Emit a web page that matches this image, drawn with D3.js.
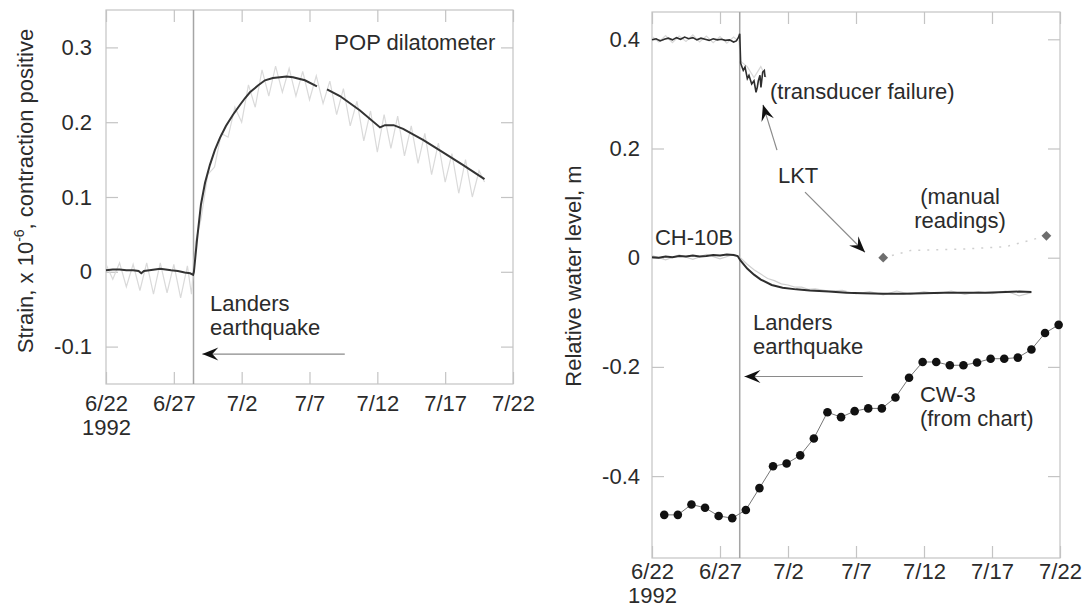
<!DOCTYPE html>
<html><head><meta charset="utf-8">
<script src="https://cdn.jsdelivr.net/npm/d3@7"></script>
<style>
body{margin:0;background:#fff}
text{font-family:"Liberation Sans",Arial,sans-serif;fill:#2b2b2b}
</style>
</head><body>
<svg id="c" width="1083" height="607"></svg>
<script>
// ---------- data (days after 6/22/1992) ----------
const dateTicks = [0, 5, 10, 15, 20, 25, 30];
const dateLabels = ["6/22", "6/27", "7/2", "7/7", "7/12", "7/17", "7/22"];
const yearLabel = "1992";
const strainTicks = [-0.1, 0, 0.1, 0.2, 0.3];
const levelTicks = [-0.4, -0.2, 0, 0.2, 0.4];
const quakeDay = 6.45;

// POP dilatometer strain (x 10^-6), smoothed trace; null = data gap
const strain = [
  [0,0.002],[0.5,0.003],[1,0.003],[1.5,0.002],[2,0.002],[2.4,0.001],[2.6,-0.002],[2.8,0.001],
  [3.2,0.002],[3.6,0.003],[4.0,0.004],[4.4,0.003],[4.8,0.002],[5.3,0.001],[5.8,-0.001],[6.2,-0.002],[6.42,-0.004],
  [6.48,0],[6.71,0.043],[7.0,0.09],[7.3,0.119],[7.66,0.143],[8.03,0.163],[8.4,0.179],[8.84,0.195],
  [9.36,0.21],[9.87,0.223],[10.24,0.232],[10.61,0.24],[11.2,0.249],[11.72,0.256],[12.3,0.259],
  [12.82,0.26],[13.3,0.261],[13.78,0.26],[14.66,0.256],[15.55,0.248],
  null,
  [16.29,0.244],[17.24,0.235],[18.7,0.216],[20.2,0.193],[20.56,0.196],[21.2,0.196],[21.9,0.191],
  [23.4,0.176],[24.9,0.159],[26.3,0.143],[27.9,0.124]
];
// raw (unsmoothed, tidal) strain, light grey
const strainRaw = [
  [0,0.01],[0.5,-0.01],[1,0.012],[1.5,-0.02],[2,0.01],[2.5,-0.025],[3,0.012],[3.5,-0.03],[4,0.012],
  [4.5,-0.028],[5,0.01],[5.5,-0.035],[6,0.008],[6.3,-0.03],[6.6,0.04],[7,0.07],[7.5,0.13],[8,0.14],
  [8.5,0.185],[9,0.18],[9.5,0.22],[10,0.2],[10.5,0.25],[11,0.22],[11.5,0.27],[12,0.235],[12.5,0.275],
  [13,0.24],[13.5,0.272],[14,0.235],[14.5,0.268],[15,0.23],[15.5,0.262],[16,0.225],[16.5,0.255],
  [17,0.21],[17.5,0.245],[18,0.195],[18.5,0.228],[19,0.175],[19.5,0.215],[20,0.16],[20.5,0.21],
  [21,0.165],[21.5,0.208],[22,0.155],[22.5,0.195],[23,0.145],[23.5,0.185],[24,0.13],[24.5,0.172],
  [25,0.12],[25.5,0.158],[26,0.105],[26.5,0.15],[27,0.1],[27.5,0.135],[27.9,0.12]
];

// LKT well water level (m)
const lkt = [
  [0,0.399],[0.3,0.401],[0.6,0.397],[0.9,0.4],[1.2,0.402],[1.5,0.399],[1.8,0.403],[2.1,0.4],[2.4,0.404],
  [2.7,0.401],[3.0,0.403],[3.3,0.399],[3.6,0.402],[3.9,0.4],[4.2,0.398],[4.5,0.401],[4.8,0.399],
  [5.1,0.4],[5.4,0.398],[5.7,0.399],[6.0,0.395],[6.2,0.397],[6.35,0.403],[6.45,0.41],
  [6.52,0.356],[6.71,0.343],[6.84,0.349],[7.01,0.328],[7.13,0.334],[7.33,0.318],[7.5,0.324],
  [7.65,0.303],[7.74,0.312],[7.82,0.324],[7.94,0.334],[8.01,0.312],[8.14,0.34],[8.26,0.343],[8.31,0.331]
];
const lktRaw = [
  [0,0.405],[0.5,0.395],[1,0.407],[1.5,0.394],[2,0.406],[2.5,0.396],[3,0.408],[3.5,0.395],[4,0.406],
  [4.5,0.394],[5,0.405],[5.5,0.393],[6,0.404],[6.4,0.396],[6.5,0.36],[7,0.35],[7.5,0.33],[8,0.35],[8.4,0.33]
];
// CH-10B well water level (m)
const ch10b = [
  [0,0.001],[0.5,0.0],[1,0.002],[1.5,0.001],[2,0.003],[2.5,0.002],[3,0.004],[3.5,0.002],[4,0.003],
  [4.5,0.005],[5,0.004],[5.5,0.006],[6,0.005],[6.3,0.003],[6.5,-0.005],[7.0,-0.02],[7.5,-0.031],
  [8.0,-0.04],[8.8,-0.05],[9.6,-0.055],[10.6,-0.058],[11.6,-0.06],[13,-0.062],[14.3,-0.064],
  [15.5,-0.065],[17,-0.066],[18.5,-0.066],[20,-0.065],[21.5,-0.064],[23,-0.064],[24.5,-0.064],
  [26,-0.063],[27,-0.062],[27.9,-0.063]
];
const ch10bRaw = [
  [0,0.004],[1,-0.004],[2,0.005],[3,-0.003],[4,0.006],[5,-0.002],[6,0.006],[6.5,0.0],[7,-0.012],
  [7.5,-0.022],[8,-0.03],[8.5,-0.038],[9,-0.042],[9.5,-0.048],[10,-0.05],[10.5,-0.054],[11,-0.054],
  [11.5,-0.058],[12,-0.057],[13,-0.061],[14,-0.06],[15,-0.066],[16,-0.062],[17,-0.068],[18,-0.061],
  [19,-0.067],[20,-0.062],[21,-0.066],[22,-0.061],[23,-0.067],[24,-0.062],[25,-0.066],[26,-0.061],
  [27,-0.07],[27.9,-0.064]
];
// CW-3 daily chart readings (m)
const cw3Day = [0.9,1.9,2.9,3.9,4.9,5.9,6.9,7.9,8.9,9.9,10.9,11.9,12.9,13.9,14.9,15.9,16.9,17.9,18.9,19.9,
  20.9,21.9,22.9,23.9,24.9,25.9,26.9,27.9,28.9,29.9];
const cw3 = [-0.471,-0.471,-0.452,-0.458,-0.473,-0.477,-0.462,-0.422,-0.382,-0.377,-0.362,-0.331,-0.283,
  -0.292,-0.281,-0.276,-0.276,-0.256,-0.22,-0.191,-0.191,-0.197,-0.197,-0.192,-0.185,-0.185,-0.183,
  -0.168,-0.138,-0.123];
// LKT manual readings
const manualDay = [17, 29];
const manual = [0.0, 0.04];
const manualTrace = [[17,0.0],[19,0.013],[23,0.016],[26,0.02],[29,0.04]];

// ---------- drawing ----------
const svg = d3.select("#c");
svg.append("rect").attr("width",1083).attr("height",607).attr("fill","#fff");
const FS = 22;
const LH = 24;
const boxCol = "#c4c4c4";

svg.append("defs").append("marker")
  .attr("id","ah").attr("viewBox","-17 -7 18 14").attr("refX",0).attr("refY",0)
  .attr("markerWidth",18).attr("markerHeight",14).attr("markerUnits","userSpaceOnUse")
  .attr("orient","auto")
  .append("path").attr("d","M0,0 L-16,-6.5 L-10,0 L-16,6.5 Z").attr("fill","#111");

const fmt = d => d === 0 ? "0" : d.toFixed(1);

function frame(x, y, yTicks, labPad, xPad, yearGap) {
  const [x0, x1] = x.range(), [yb, yt] = y.range();
  const g = svg.append("g");
  const ax = [
    g.append("g").attr("transform",`translate(${x0},0)`)
      .call(d3.axisLeft(y).tickValues(yTicks).tickSize(-12).tickPadding(labPad).tickFormat(fmt)),
    g.append("g").attr("transform",`translate(${x1},0)`)
      .call(d3.axisRight(y).tickValues(yTicks).tickSize(-12).tickFormat("")),
    g.append("g").attr("transform",`translate(0,${yt})`)
      .call(d3.axisTop(x).tickValues(dateTicks).tickSize(-12).tickFormat("")),
    g.append("g").attr("transform",`translate(0,${yb})`)
      .call(d3.axisBottom(x).tickValues(dateTicks).tickSize(-12).tickPadding(xPad)
        .tickFormat((d,i) => dateLabels[i]))
  ];
  ax.forEach(a => {
    a.select(".domain").remove();
    a.selectAll(".tick line").attr("stroke",boxCol).attr("stroke-width",1.2);
    a.selectAll("text").attr("font-size",FS).attr("font-family",null).attr("fill","#2b2b2b");
  });
  ax[3].selectAll(".tick").filter(d => d === 0).append("text")
    .attr("y", xPad + yearGap).attr("dy","0.71em").attr("text-anchor","middle")
    .attr("font-size",FS).attr("fill","#2b2b2b").text(yearLabel);
  g.append("rect").attr("x",x0).attr("y",yt).attr("width",x1-x0).attr("height",yb-yt)
    .attr("fill","none").attr("stroke",boxCol).attr("stroke-width",1.2);
  // earthquake line
  g.append("line").attr("x1",x(quakeDay)).attr("x2",x(quakeDay)).attr("y1",yt).attr("y2",yb)
    .attr("stroke","#a5a5a5").attr("stroke-width",1.5);
  return g;
}

function lineOf(x, y) {
  return d3.line().defined(d => d).x(d => x(d[0])).y(d => y(d[1]));
}
function label(g, x, y, lines, day, val, anchor) {
  lines.forEach((t, i) => {
    g.append("text").attr("x", x(day)).attr("y", y(val) + i*LH).attr("dy","0.35em")
      .attr("text-anchor", anchor || "start").attr("font-size", FS).text(t);
  });
}
function arrow(g, x, y, from, to) {
  g.append("line").attr("x1",x(from[0])).attr("y1",y(from[1])).attr("x2",x(to[0])).attr("y2",y(to[1]))
    .attr("stroke","#8a8a8a").attr("stroke-width",1.2).attr("marker-end","url(#ah)");
}

// ----- left panel -----
const xL = d3.scaleLinear().domain([0,30]).range([106,513]);
const yL = d3.scaleLinear().domain([-0.15,0.35]).range([384,10]);
const gL = frame(xL, yL, strainTicks, 14, 11, LH);
const lL = lineOf(xL, yL);
gL.append("path").attr("d", lL(strainRaw)).attr("fill","none").attr("stroke","#dadada").attr("stroke-width",1.2);
gL.append("path").attr("d", lL(strain)).attr("fill","none").attr("stroke","#333").attr("stroke-width",2);
label(gL, xL, yL, ["POP dilatometer"], 28.7, 0.307, "end");
label(gL, xL, yL, ["Landers","earthquake"], 7.67, -0.042);
arrow(gL, xL, yL, [17.6,-0.11], [7.1,-0.11]);
svg.append("text").attr("transform","translate(33,191) rotate(-90)").attr("text-anchor","middle")
  .attr("font-size",FS)
  .call(t => {
    t.append("tspan").text("Strain, x 10");
    t.append("tspan").attr("font-size",14).attr("dy",-9).text("-6");
    t.append("tspan").attr("dy",9).text(", contraction positive");
  });

// ----- right panel -----
const xR = d3.scaleLinear().domain([0,30]).range([652,1060]);
const yR = d3.scaleLinear().domain([-0.55,0.45]).range([558,12]);
const gR = frame(xR, yR, levelTicks, 12, 5, LH);
const lR = lineOf(xR, yR);
gR.append("path").attr("d", lR(lktRaw)).attr("fill","none").attr("stroke","#d8d8d8").attr("stroke-width",1.2);
gR.append("path").attr("d", lR(ch10bRaw)).attr("fill","none").attr("stroke","#d0d0d0").attr("stroke-width",1.2);
gR.append("path").attr("d", lR(manualTrace)).attr("fill","none").attr("stroke","#cfcfcf")
  .attr("stroke-width",1.5).attr("stroke-dasharray","2,7");
gR.append("path").attr("d", lR(lkt)).attr("fill","none").attr("stroke","#2e2e2e").attr("stroke-width",1.6);
gR.append("path").attr("d", lR(ch10b)).attr("fill","none").attr("stroke","#2e2e2e").attr("stroke-width",2);
const cwPts = cw3Day.map((d,i) => [d, cw3[i]]);
gR.append("path").attr("d", lR(cwPts)).attr("fill","none").attr("stroke","#777").attr("stroke-width",1);
gR.selectAll("circle.cw").data(cwPts).join("circle").attr("class","cw")
  .attr("cx", d => xR(d[0])).attr("cy", d => yR(d[1])).attr("r", 4.3).attr("fill","#111");
gR.selectAll("path.man").data(manualDay.map((d,i) => [d, manual[i]])).join("path").attr("class","man")
  .attr("d", d3.symbol(d3.symbolSquare, 48))
  .attr("transform", d => `translate(${xR(d[0])},${yR(d[1])}) rotate(45)`).attr("fill","#6e6e6e");

label(gR, xR, yR, ["(transducer failure)"], 8.68, 0.305);
label(gR, xR, yR, ["LKT"], 9.26, 0.151);
arrow(gR, xR, yR, [9.19,0.197], [8.16,0.28]);
arrow(gR, xR, yR, [11.25,0.12], [15.66,0.01]);
label(gR, xR, yR, ["(manual","readings)"], 22.65, 0.113, "middle");
label(gR, xR, yR, ["CH-10B"], 0.22, 0.038);
label(gR, xR, yR, ["Landers","earthquake"], 7.43, -0.119);
arrow(gR, xR, yR, [15.5,-0.2176], [6.8,-0.2176]);
label(gR, xR, yR, ["CW-3","(from chart)"], 19.7, -0.251);
svg.append("text").attr("transform","translate(581,276) rotate(-90)").attr("text-anchor","middle")
  .attr("font-size",FS).text("Relative water level, m");
</script>
</body></html>
